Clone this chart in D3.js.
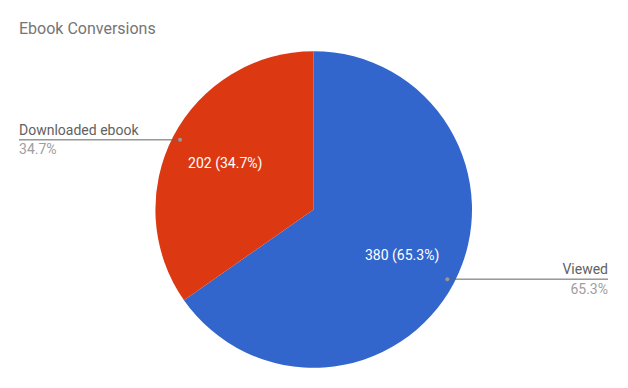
<!DOCTYPE html>
<html><head><meta charset="utf-8">
<script src="https://cdn.jsdelivr.net/npm/d3@7"></script>
<style>body{margin:0;background:#fff}svg{display:block;font-family:Roboto,sans-serif}</style>
</head><body>
<svg id="c" width="628" height="388"></svg>
<script>
const categories = ["Viewed", "Downloaded ebook"];
const values = [380, 202];
const colors = ["#3366cc", "#dc3912"];
const title = "Ebook Conversions";

const svg = d3.select("#c");
const cx = 313.7, cy = 209.5, r = 158.3;
const total = d3.sum(values);
const fmt = v => (v / total * 100).toFixed(1) + "%";

svg.append("text").attr("x", 19).attr("y", 34).attr("fill", "#757575")
  .attr("font-size", 16).text(title);

const pie = d3.pie().sort(null).value(d => d)(values);
const arc = d3.arc().innerRadius(0).outerRadius(r);
const g = svg.append("g").attr("transform", `translate(${cx},${cy})`);
g.selectAll("path").data(pie).join("path")
  .attr("d", arc).attr("fill", (d, i) => colors[i]);

const inner = d3.arc().innerRadius(r * 0.63).outerRadius(r * 0.63);
g.selectAll("text.in").data(pie).join("text").attr("class", "in")
  .attr("transform", d => `translate(${inner.centroid(d)})`)
  .attr("text-anchor", "middle").attr("dy", "0.35em")
  .attr("fill", "#fff").attr("font-size", 14)
  .text((d, i) => `${values[i]} (${fmt(values[i])})`);

const outer = d3.arc().innerRadius(r * 0.952).outerRadius(r * 0.952);
pie.forEach((d, i) => {
  const [px, py] = outer.centroid(d);
  const right = px > 0;
  const ex = right ? 608 - cx : 19 - cx;
  g.append("line").attr("x1", px).attr("y1", py).attr("x2", ex).attr("y2", py)
    .attr("stroke", "#636363").attr("stroke-width", 1);
  g.append("circle").attr("cx", px).attr("cy", py).attr("r", 2).attr("fill", "#999");
  const anchor = right ? "end" : "start";
  g.append("text").attr("x", ex).attr("y", py - 5).attr("text-anchor", anchor)
    .attr("fill", "#616161").attr("font-size", 14).text(categories[i]);
  g.append("text").attr("x", ex).attr("y", py + 14.5).attr("text-anchor", anchor)
    .attr("fill", "#9e9e9e").attr("font-size", 14).text(fmt(values[i]));
});
</script>
</body></html>
